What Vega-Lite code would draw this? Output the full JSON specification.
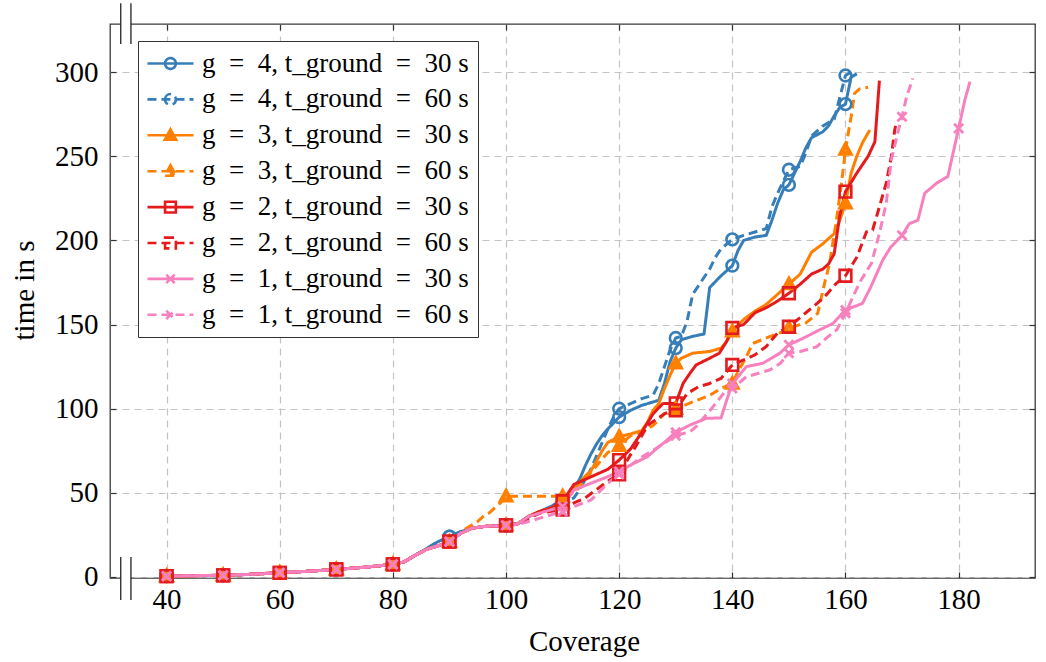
{
 "$schema": "https://vega.github.io/schema/vega-lite/v6.json",
 "width": 925, "height": 554,
 "autosize": {"type": "none"},
 "padding": {"left": 110, "top": 24, "right": 11, "bottom": 84},
 "background": "white",
 "datasets": {
  "curves": [
{"s":"4/30","x":40,"y":0.5},{"s":"4/30","x":45,"y":0.8},{"s":"4/30","x":50,"y":1.0},{"s":"4/30","x":55,"y":1.6},{"s":"4/30","x":60,"y":2.5},{"s":"4/30","x":65,"y":3.4},{"s":"4/30","x":70,"y":4.5},{"s":"4/30","x":75,"y":5.8},{"s":"4/30","x":80,"y":7.5},{"s":"4/30","x":82,"y":9},{"s":"4/30","x":84,"y":13},{"s":"4/30","x":86,"y":17},{"s":"4/30","x":88,"y":21},{"s":"4/30","x":90,"y":24},{"s":"4/30","x":92,"y":27},{"s":"4/30","x":94,"y":29},{"s":"4/30","x":96,"y":30},{"s":"4/30","x":98,"y":30.3},{"s":"4/30","x":100,"y":30.7},{"s":"4/30","x":102,"y":31.5},{"s":"4/30","x":104,"y":36},{"s":"4/30","x":106,"y":39},{"s":"4/30","x":108,"y":42},{"s":"4/30","x":110,"y":46},{"s":"4/30","x":112,"y":53},{"s":"4/30","x":113,"y":58},{"s":"4/30","x":114,"y":66},{"s":"4/30","x":115,"y":73},{"s":"4/30","x":116,"y":79},{"s":"4/30","x":117,"y":84},{"s":"4/30","x":118,"y":88},{"s":"4/30","x":120,"y":95},{"s":"4/30","x":122,"y":99},{"s":"4/30","x":124,"y":102},{"s":"4/30","x":126,"y":104},{"s":"4/30","x":127,"y":105},{"s":"4/30","x":128,"y":115},{"s":"4/30","x":129,"y":128},{"s":"4/30","x":130,"y":136},{"s":"4/30","x":131,"y":141},{"s":"4/30","x":133,"y":143},{"s":"4/30","x":135,"y":144.4},{"s":"4/30","x":136,"y":172},{"s":"4/30","x":138,"y":179},{"s":"4/30","x":140,"y":185},{"s":"4/30","x":141,"y":194},{"s":"4/30","x":142,"y":200},{"s":"4/30","x":144,"y":202},{"s":"4/30","x":146,"y":203},{"s":"4/30","x":147,"y":212},{"s":"4/30","x":148,"y":222},{"s":"4/30","x":149,"y":230},{"s":"4/30","x":150,"y":233},{"s":"4/30","x":151,"y":240},{"s":"4/30","x":152,"y":247},{"s":"4/30","x":153,"y":255},{"s":"4/30","x":154,"y":261},{"s":"4/30","x":156,"y":264.6},{"s":"4/30","x":157,"y":268},{"s":"4/30","x":158,"y":274},{"s":"4/30","x":159,"y":279},{"s":"4/30","x":160,"y":281},{"s":"4/30","x":161,"y":297},{"s":"4/30","x":162,"y":299},
{"s":"4/60","x":40,"y":0.5},{"s":"4/60","x":45,"y":0.8},{"s":"4/60","x":50,"y":1.0},{"s":"4/60","x":55,"y":1.6},{"s":"4/60","x":60,"y":2.5},{"s":"4/60","x":65,"y":3.4},{"s":"4/60","x":70,"y":4.5},{"s":"4/60","x":75,"y":5.8},{"s":"4/60","x":80,"y":7.5},{"s":"4/60","x":82,"y":9},{"s":"4/60","x":84,"y":13},{"s":"4/60","x":86,"y":17},{"s":"4/60","x":88,"y":21},{"s":"4/60","x":90,"y":24},{"s":"4/60","x":92,"y":27},{"s":"4/60","x":94,"y":29},{"s":"4/60","x":96,"y":30},{"s":"4/60","x":98,"y":30.3},{"s":"4/60","x":100,"y":30.7},{"s":"4/60","x":102,"y":31.5},{"s":"4/60","x":104,"y":35},{"s":"4/60","x":106,"y":38},{"s":"4/60","x":108,"y":41},{"s":"4/60","x":110,"y":44},{"s":"4/60","x":112,"y":47},{"s":"4/60","x":113,"y":52},{"s":"4/60","x":114,"y":58},{"s":"4/60","x":115,"y":64},{"s":"4/60","x":116,"y":72},{"s":"4/60","x":117,"y":80},{"s":"4/60","x":118,"y":88},{"s":"4/60","x":119,"y":95},{"s":"4/60","x":120,"y":100},{"s":"4/60","x":122,"y":103},{"s":"4/60","x":124,"y":106},{"s":"4/60","x":126,"y":108},{"s":"4/60","x":127,"y":115},{"s":"4/60","x":128,"y":125},{"s":"4/60","x":129,"y":135},{"s":"4/60","x":130,"y":142},{"s":"4/60","x":131,"y":143},{"s":"4/60","x":132,"y":152},{"s":"4/60","x":133,"y":168},{"s":"4/60","x":134,"y":173},{"s":"4/60","x":136,"y":183},{"s":"4/60","x":137,"y":190},{"s":"4/60","x":138,"y":195},{"s":"4/60","x":140,"y":200.6},{"s":"4/60","x":142,"y":203},{"s":"4/60","x":144,"y":205},{"s":"4/60","x":146,"y":207},{"s":"4/60","x":147,"y":220},{"s":"4/60","x":148,"y":228},{"s":"4/60","x":149,"y":235},{"s":"4/60","x":150,"y":242},{"s":"4/60","x":152,"y":244},{"s":"4/60","x":153,"y":252},{"s":"4/60","x":154,"y":262},{"s":"4/60","x":156,"y":268},{"s":"4/60","x":158,"y":272},{"s":"4/60","x":159,"y":285},{"s":"4/60","x":160,"y":298},{"s":"4/60","x":161,"y":300},
{"s":"3/30","x":40,"y":0.5},{"s":"3/30","x":45,"y":0.8},{"s":"3/30","x":50,"y":1.0},{"s":"3/30","x":55,"y":1.6},{"s":"3/30","x":60,"y":2.5},{"s":"3/30","x":65,"y":3.4},{"s":"3/30","x":70,"y":4.5},{"s":"3/30","x":75,"y":5.8},{"s":"3/30","x":80,"y":7.5},{"s":"3/30","x":82,"y":9},{"s":"3/30","x":84,"y":13},{"s":"3/30","x":86,"y":16.5},{"s":"3/30","x":88,"y":18.5},{"s":"3/30","x":90,"y":21},{"s":"3/30","x":92,"y":26},{"s":"3/30","x":94,"y":29},{"s":"3/30","x":96,"y":30},{"s":"3/30","x":98,"y":30.3},{"s":"3/30","x":100,"y":30.7},{"s":"3/30","x":102,"y":31.5},{"s":"3/30","x":104,"y":36},{"s":"3/30","x":106,"y":39},{"s":"3/30","x":108,"y":41},{"s":"3/30","x":110,"y":44},{"s":"3/30","x":112,"y":52},{"s":"3/30","x":114,"y":60},{"s":"3/30","x":115,"y":63},{"s":"3/30","x":116,"y":69},{"s":"3/30","x":117,"y":75},{"s":"3/30","x":118,"y":80},{"s":"3/30","x":120,"y":83.4},{"s":"3/30","x":122,"y":85},{"s":"3/30","x":124,"y":87},{"s":"3/30","x":125,"y":92},{"s":"3/30","x":126,"y":99},{"s":"3/30","x":127,"y":103},{"s":"3/30","x":128,"y":112},{"s":"3/30","x":129,"y":120},{"s":"3/30","x":130,"y":127},{"s":"3/30","x":131,"y":130},{"s":"3/30","x":133,"y":133},{"s":"3/30","x":136,"y":134},{"s":"3/30","x":138,"y":136},{"s":"3/30","x":139,"y":140},{"s":"3/30","x":140,"y":146},{"s":"3/30","x":142,"y":153},{"s":"3/30","x":144,"y":158},{"s":"3/30","x":146,"y":162},{"s":"3/30","x":148,"y":168},{"s":"3/30","x":150,"y":174},{"s":"3/30","x":152,"y":180},{"s":"3/30","x":154,"y":193},{"s":"3/30","x":156,"y":198},{"s":"3/30","x":158,"y":204},{"s":"3/30","x":159,"y":212},{"s":"3/30","x":160,"y":222},{"s":"3/30","x":161,"y":240},{"s":"3/30","x":162,"y":250},{"s":"3/30","x":163,"y":258},{"s":"3/30","x":164.3,"y":265.6},
{"s":"3/60","x":40,"y":0.5},{"s":"3/60","x":45,"y":0.8},{"s":"3/60","x":50,"y":1.0},{"s":"3/60","x":55,"y":1.6},{"s":"3/60","x":60,"y":2.5},{"s":"3/60","x":65,"y":3.4},{"s":"3/60","x":70,"y":4.5},{"s":"3/60","x":75,"y":5.8},{"s":"3/60","x":80,"y":7.5},{"s":"3/60","x":82,"y":9},{"s":"3/60","x":84,"y":13},{"s":"3/60","x":86,"y":16.5},{"s":"3/60","x":88,"y":18.5},{"s":"3/60","x":90,"y":21},{"s":"3/60","x":92,"y":26},{"s":"3/60","x":93,"y":29},{"s":"3/60","x":95,"y":33},{"s":"3/60","x":96,"y":36},{"s":"3/60","x":97,"y":38},{"s":"3/60","x":98,"y":41},{"s":"3/60","x":99,"y":44},{"s":"3/60","x":100,"y":48},{"s":"3/60","x":102,"y":48},{"s":"3/60","x":104,"y":48},{"s":"3/60","x":106,"y":48},{"s":"3/60","x":108,"y":48},{"s":"3/60","x":110,"y":48},{"s":"3/60","x":111,"y":48},{"s":"3/60","x":113,"y":53},{"s":"3/60","x":115,"y":62},{"s":"3/60","x":117,"y":70},{"s":"3/60","x":118,"y":74},{"s":"3/60","x":120,"y":78},{"s":"3/60","x":122,"y":84},{"s":"3/60","x":124,"y":86},{"s":"3/60","x":126,"y":90},{"s":"3/60","x":128,"y":97},{"s":"3/60","x":130,"y":100},{"s":"3/60","x":133,"y":104},{"s":"3/60","x":136,"y":108},{"s":"3/60","x":138,"y":112},{"s":"3/60","x":140,"y":115},{"s":"3/60","x":141,"y":122},{"s":"3/60","x":142.5,"y":131},{"s":"3/60","x":143.6,"y":138.8},{"s":"3/60","x":146.6,"y":142.8},{"s":"3/60","x":149,"y":145.8},{"s":"3/60","x":150,"y":148},{"s":"3/60","x":153,"y":151},{"s":"3/60","x":155.1,"y":156.7},{"s":"3/60","x":156.3,"y":174.5},{"s":"3/60","x":157.2,"y":186.4},{"s":"3/60","x":158.4,"y":212},{"s":"3/60","x":159.3,"y":234},{"s":"3/60","x":160,"y":254},{"s":"3/60","x":161,"y":273.5},{"s":"3/60","x":161.6,"y":287.4},{"s":"3/60","x":162.5,"y":290},{"s":"3/60","x":164,"y":291},
{"s":"2/30","x":40,"y":0.5},{"s":"2/30","x":45,"y":0.8},{"s":"2/30","x":50,"y":1.0},{"s":"2/30","x":55,"y":1.6},{"s":"2/30","x":60,"y":2.5},{"s":"2/30","x":65,"y":3.4},{"s":"2/30","x":70,"y":4.5},{"s":"2/30","x":75,"y":5.8},{"s":"2/30","x":80,"y":7.5},{"s":"2/30","x":82,"y":9},{"s":"2/30","x":84,"y":13},{"s":"2/30","x":86,"y":16.5},{"s":"2/30","x":88,"y":18.5},{"s":"2/30","x":90,"y":21},{"s":"2/30","x":92,"y":26},{"s":"2/30","x":94,"y":29},{"s":"2/30","x":96,"y":30},{"s":"2/30","x":98,"y":30.3},{"s":"2/30","x":100,"y":30.7},{"s":"2/30","x":102,"y":31.5},{"s":"2/30","x":104,"y":36},{"s":"2/30","x":106,"y":39},{"s":"2/30","x":108,"y":41},{"s":"2/30","x":110,"y":45},{"s":"2/30","x":112,"y":55},{"s":"2/30","x":114,"y":58},{"s":"2/30","x":116,"y":61},{"s":"2/30","x":118,"y":64},{"s":"2/30","x":120,"y":69.5},{"s":"2/30","x":122,"y":76},{"s":"2/30","x":124,"y":86},{"s":"2/30","x":126,"y":97},{"s":"2/30","x":127.7,"y":103},{"s":"2/30","x":130,"y":103.2},{"s":"2/30","x":131.3,"y":115},{"s":"2/30","x":132.5,"y":121},{"s":"2/30","x":133.6,"y":126},{"s":"2/30","x":136,"y":130},{"s":"2/30","x":137.7,"y":133},{"s":"2/30","x":139,"y":140},{"s":"2/30","x":140,"y":148},{"s":"2/30","x":142,"y":150},{"s":"2/30","x":144,"y":157},{"s":"2/30","x":146,"y":160},{"s":"2/30","x":148,"y":164},{"s":"2/30","x":150,"y":168.6},{"s":"2/30","x":152,"y":174},{"s":"2/30","x":154,"y":180},{"s":"2/30","x":156,"y":183},{"s":"2/30","x":157,"y":186},{"s":"2/30","x":158,"y":192},{"s":"2/30","x":159,"y":215},{"s":"2/30","x":160,"y":229},{"s":"2/30","x":162,"y":240},{"s":"2/30","x":164,"y":250},{"s":"2/30","x":165.2,"y":258.6},{"s":"2/30","x":166,"y":295},
{"s":"2/60","x":40,"y":0.5},{"s":"2/60","x":45,"y":0.8},{"s":"2/60","x":50,"y":1.0},{"s":"2/60","x":55,"y":1.6},{"s":"2/60","x":60,"y":2.5},{"s":"2/60","x":65,"y":3.4},{"s":"2/60","x":70,"y":4.5},{"s":"2/60","x":75,"y":5.8},{"s":"2/60","x":80,"y":7.5},{"s":"2/60","x":82,"y":9},{"s":"2/60","x":84,"y":13},{"s":"2/60","x":86,"y":16.5},{"s":"2/60","x":88,"y":18.5},{"s":"2/60","x":90,"y":21},{"s":"2/60","x":92,"y":26},{"s":"2/60","x":94,"y":29},{"s":"2/60","x":96,"y":30},{"s":"2/60","x":98,"y":30.3},{"s":"2/60","x":100,"y":30.7},{"s":"2/60","x":102,"y":31.5},{"s":"2/60","x":104,"y":35},{"s":"2/60","x":106,"y":38},{"s":"2/60","x":108,"y":39},{"s":"2/60","x":110,"y":40},{"s":"2/60","x":112,"y":44},{"s":"2/60","x":114,"y":47},{"s":"2/60","x":116,"y":52},{"s":"2/60","x":118,"y":57},{"s":"2/60","x":120,"y":61},{"s":"2/60","x":121.8,"y":71.5},{"s":"2/60","x":123,"y":78},{"s":"2/60","x":125,"y":90},{"s":"2/60","x":128,"y":97},{"s":"2/60","x":130,"y":99},{"s":"2/60","x":132,"y":109},{"s":"2/60","x":134,"y":113},{"s":"2/60","x":136,"y":115},{"s":"2/60","x":138,"y":118},{"s":"2/60","x":140,"y":126},{"s":"2/60","x":142,"y":129},{"s":"2/60","x":144,"y":132},{"s":"2/60","x":146,"y":137},{"s":"2/60","x":148,"y":145},{"s":"2/60","x":150,"y":148.7},{"s":"2/60","x":153,"y":157},{"s":"2/60","x":155,"y":162.6},{"s":"2/60","x":156.6,"y":167.6},{"s":"2/60","x":158.4,"y":174.5},{"s":"2/60","x":160,"y":179},{"s":"2/60","x":162,"y":190},{"s":"2/60","x":163.7,"y":205},{"s":"2/60","x":164.8,"y":206.2},{"s":"2/60","x":166,"y":220},{"s":"2/60","x":167.2,"y":234},{"s":"2/60","x":168.1,"y":249.7},{"s":"2/60","x":168.7,"y":265.6},{"s":"2/60","x":169,"y":270},
{"s":"1/30","x":40,"y":0.5},{"s":"1/30","x":45,"y":0.8},{"s":"1/30","x":50,"y":1.0},{"s":"1/30","x":55,"y":1.6},{"s":"1/30","x":60,"y":2.5},{"s":"1/30","x":65,"y":3.4},{"s":"1/30","x":70,"y":4.5},{"s":"1/30","x":75,"y":5.8},{"s":"1/30","x":80,"y":7.5},{"s":"1/30","x":82,"y":9},{"s":"1/30","x":84,"y":13},{"s":"1/30","x":86,"y":16.5},{"s":"1/30","x":88,"y":18.5},{"s":"1/30","x":90,"y":21},{"s":"1/30","x":92,"y":26},{"s":"1/30","x":94,"y":29},{"s":"1/30","x":96,"y":30},{"s":"1/30","x":98,"y":30.3},{"s":"1/30","x":100,"y":30.7},{"s":"1/30","x":102,"y":31.5},{"s":"1/30","x":104,"y":36},{"s":"1/30","x":106,"y":38},{"s":"1/30","x":108,"y":40},{"s":"1/30","x":110,"y":42},{"s":"1/30","x":112,"y":51.7},{"s":"1/30","x":115,"y":55.7},{"s":"1/30","x":118,"y":59.6},{"s":"1/30","x":120,"y":62.6},{"s":"1/30","x":122,"y":66.5},{"s":"1/30","x":125,"y":71.5},{"s":"1/30","x":127,"y":77.4},{"s":"1/30","x":128,"y":80},{"s":"1/30","x":130,"y":86},{"s":"1/30","x":132.5,"y":90.3},{"s":"1/30","x":135.4,"y":94.3},{"s":"1/30","x":138,"y":94.5},{"s":"1/30","x":139,"y":105},{"s":"1/30","x":140,"y":115},{"s":"1/30","x":142.5,"y":125},{"s":"1/30","x":145.4,"y":127},{"s":"1/30","x":148.4,"y":133},{"s":"1/30","x":150,"y":138},{"s":"1/30","x":152,"y":141},{"s":"1/30","x":155.4,"y":146.8},{"s":"1/30","x":157.8,"y":150.7},{"s":"1/30","x":160,"y":158.6},{"s":"1/30","x":163,"y":162.6},{"s":"1/30","x":164.5,"y":172.5},{"s":"1/30","x":166.6,"y":188.4},{"s":"1/30","x":168,"y":196},{"s":"1/30","x":170,"y":203},{"s":"1/30","x":171.3,"y":210},{"s":"1/30","x":172.8,"y":212},{"s":"1/30","x":174,"y":228},{"s":"1/30","x":176.1,"y":234},{"s":"1/30","x":178.1,"y":238},{"s":"1/30","x":180,"y":266.6},{"s":"1/30","x":181.1,"y":283.4},{"s":"1/30","x":182,"y":294.3},
{"s":"1/60","x":40,"y":0.5},{"s":"1/60","x":45,"y":0.8},{"s":"1/60","x":50,"y":1.0},{"s":"1/60","x":55,"y":1.6},{"s":"1/60","x":60,"y":2.5},{"s":"1/60","x":65,"y":3.4},{"s":"1/60","x":70,"y":4.5},{"s":"1/60","x":75,"y":5.8},{"s":"1/60","x":80,"y":7.5},{"s":"1/60","x":82,"y":9},{"s":"1/60","x":84,"y":13},{"s":"1/60","x":86,"y":16.5},{"s":"1/60","x":88,"y":18.5},{"s":"1/60","x":90,"y":21},{"s":"1/60","x":92,"y":26},{"s":"1/60","x":94,"y":29},{"s":"1/60","x":96,"y":30},{"s":"1/60","x":98,"y":30.3},{"s":"1/60","x":100,"y":30.7},{"s":"1/60","x":102,"y":31},{"s":"1/60","x":104,"y":33},{"s":"1/60","x":106,"y":35},{"s":"1/60","x":108,"y":37},{"s":"1/60","x":110,"y":39},{"s":"1/60","x":112,"y":41.8},{"s":"1/60","x":115,"y":45.7},{"s":"1/60","x":118,"y":55.7},{"s":"1/60","x":120,"y":61},{"s":"1/60","x":123.6,"y":70.5},{"s":"1/60","x":126.6,"y":76.5},{"s":"1/60","x":130,"y":84},{"s":"1/60","x":132.5,"y":86.3},{"s":"1/60","x":133.6,"y":89.3},{"s":"1/60","x":136.6,"y":101.2},{"s":"1/60","x":138.9,"y":111},{"s":"1/60","x":140,"y":112},{"s":"1/60","x":142.5,"y":119},{"s":"1/60","x":146.6,"y":123},{"s":"1/60","x":148.5,"y":127},{"s":"1/60","x":150,"y":133},{"s":"1/60","x":152,"y":134},{"s":"1/60","x":154.9,"y":136.8},{"s":"1/60","x":157,"y":143},{"s":"1/60","x":158.5,"y":147},{"s":"1/60","x":160,"y":156.7},{"s":"1/60","x":162.5,"y":175},{"s":"1/60","x":164.6,"y":186.4},{"s":"1/60","x":166,"y":204.2},{"s":"1/60","x":167.2,"y":222},{"s":"1/60","x":168.1,"y":247.8},{"s":"1/60","x":169.3,"y":264.6},{"s":"1/60","x":170,"y":273.5},{"s":"1/60","x":170.8,"y":285.4},{"s":"1/60","x":171.9,"y":296.3}
  ],
  "breakBars": [
   {"x": 31.9, "y": -13.7, "y2": 11.9}, {"x": 33.7, "y": -13.7, "y2": 11.9},
   {"x": 31.9, "y": 316.7, "y2": 341}, {"x": 33.7, "y": 316.7, "y2": 341}
  ],
  "breakGaps": [
   {"x": 31.9, "x2": 33.7, "y": -2.5, "y2": 2.5},
   {"x": 31.9, "x2": 33.7, "y": 326.1, "y2": 331.1}
  ]
 },
 "data": {"name": "curves"},
 "layer": [
  {
   "mark": {"type": "line", "strokeWidth": 3, "strokeCap": "butt", "strokeJoin": "round"},
   "encoding": {
    "x": {"field": "x", "type": "quantitative", "scale": {"domain": [30, 193.5], "nice": false, "zero": false},
          "axis": {"orient": "bottom", "values": [40, 60, 80, 100, 120, 140, 160, 180], "grid": true, "title": "Coverage", "labelPadding": 13, "titleX": 474, "titleY": 72, "titleBaseline": "alphabetic"}},
    "y": {"field": "y", "type": "quantitative", "scale": {"domain": [-0.6, 328.6], "nice": false, "zero": false},
          "axis": {"orient": "left", "values": [0, 50, 100, 150, 200, 250, 300], "grid": true, "title": "time in s", "labelPadding": 18, "titleX": -77, "titleY": 266, "titleBaseline": "alphabetic", "titleAngle": -90, "titleAlign": "center"}},
    "color": {"field": "s", "type": "nominal", "scale": {"domain": ["4/30","4/60","3/30","3/60","2/30","2/60","1/30","1/60"], "range": ["#377eb8","#377eb8","#ff7f00","#ff7f00","#e41a1c","#e41a1c","#f781bf","#f781bf"]},
      "legend": {"orient": "none", "legendX": 28, "legendY": 17, "title": null, "labelExpr": "'g\u2002=\u2002' + split(datum.label, '/')[0] + ', t_ground\u2002=\u2002' + split(datum.label, '/')[1] + ' s'", "labelOffset": 28, "labelFontSize": 27, "rowPadding": 7.9}},
    "strokeDash": {"field": "s", "type": "nominal", "scale": {"domain": ["4/30","4/60","3/30","3/60","2/30","2/60","1/30","1/60"], "range": [[1,0],[9,5],[1,0],[9,5],[1,0],[9,5],[1,0],[9,5]]}}
   }
  },
  {
   "transform": [{"filter": "datum.x % 10 === 0 && (datum.s === '4/30' || datum.s === '4/60')"}],
   "mark": {"type": "point", "shape": "M-0.9,0A0.9,0.9,0,1,1,0.9,0A0.9,0.9,0,1,1,-0.9,0Z", "filled": false, "size": 169, "strokeWidth": 2.6, "opacity": 1},
   "encoding": {
    "x": {"field": "x", "type": "quantitative", "axis": {"orient": "top", "labels": false, "grid": false, "title": null, "values": [40, 60, 80, 100, 120, 140, 160, 180]}},
    "y": {"field": "y", "type": "quantitative", "axis": {"orient": "right", "labels": false, "grid": false, "title": null, "values": [0, 50, 100, 150, 200, 250, 300]}},
    "color": {"field": "s", "type": "nominal"}
   }
  },
  {
   "transform": [{"filter": "datum.x % 10 === 0 && (datum.s === '3/30' || datum.s === '3/60')"}],
   "mark": {"type": "point", "shape": "M0,-1L0.95,0.75L-0.95,0.75Z M0,-0.45L0.45,0.4L-0.45,0.4Z", "filled": false, "size": 169, "strokeWidth": 2.6, "opacity": 1},
   "encoding": {
    "x": {"field": "x", "type": "quantitative", "axis": null},
    "y": {"field": "y", "type": "quantitative", "axis": null},
    "color": {"field": "s", "type": "nominal"}
   }
  },
  {
   "transform": [{"filter": "datum.x % 10 === 0 && (datum.s === '2/30' || datum.s === '2/60')"}],
   "mark": {"type": "point", "shape": "M-0.9,-0.9H0.9V0.9H-0.9Z", "filled": false, "size": 169, "strokeWidth": 2.6, "opacity": 1},
   "encoding": {
    "x": {"field": "x", "type": "quantitative", "axis": null},
    "y": {"field": "y", "type": "quantitative", "axis": null},
    "color": {"field": "s", "type": "nominal"}
   }
  },
  {
   "transform": [{"filter": "datum.x % 10 === 0 && (datum.s === '1/30' || datum.s === '1/60')"}],
   "mark": {"type": "point", "shape": "M-0.7,-0.7L0.7,0.7M-0.7,0.7L0.7,-0.7", "filled": false, "size": 169, "strokeWidth": 2.8, "opacity": 1},
   "encoding": {
    "x": {"field": "x", "type": "quantitative", "axis": null},
    "y": {"field": "y", "type": "quantitative", "axis": null},
    "color": {"field": "s", "type": "nominal"}
   }
  },
  {
   "transform": [{"filter": "datum.x < 0"}],
   "mark": {"type": "point", "filled": false, "size": 144, "strokeWidth": 2.6, "opacity": 1},
   "encoding": {
    "x": {"field": "x", "type": "quantitative", "axis": null},
    "y": {"field": "y", "type": "quantitative", "axis": null},
    "color": {"field": "s", "type": "nominal"},
    "strokeDash": {"field": "s", "type": "nominal"},
    "shape": {"field": "s", "type": "nominal",
      "scale": {"domain": ["4/30","4/60","3/30","3/60","2/30","2/60","1/30","1/60"],
        "range": [
          "M-2.17,0H5.5M0.76,0A0.9,0.9,0,1,1,2.56,0A0.9,0.9,0,1,1,0.76,0",
          "M-2.17,0H5.5M0.76,0A0.9,0.9,0,1,1,2.56,0A0.9,0.9,0,1,1,0.76,0",
          "M-2.17,0H5.5M1.66,-1L2.61,0.75L0.71,0.75ZM1.66,-0.45L2.11,0.4L1.21,0.4Z",
          "M-2.17,0H5.5M1.66,-1L2.61,0.75L0.71,0.75ZM1.66,-0.45L2.11,0.4L1.21,0.4Z",
          "M-2.17,0H5.5M0.76,-0.9H2.56V0.9H0.76Z",
          "M-2.17,0H5.5M0.76,-0.9H2.56V0.9H0.76Z",
          "M-2.17,0H5.5M0.96,-0.7L2.36,0.7M0.96,0.7L2.36,-0.7",
          "M-2.17,0H5.5M0.96,-0.7L2.36,0.7M0.96,0.7L2.36,-0.7"
        ]}}
   }
  },
  {
   "data": {"name": "breakGaps"},
   "mark": {"type": "rect", "fill": "white", "clip": false},
   "encoding": {
    "x": {"field": "x", "type": "quantitative", "axis": null},
    "x2": {"field": "x2"},
    "y": {"field": "y", "type": "quantitative", "axis": null},
    "y2": {"field": "y2"}
   }
  },
  {
   "data": {"name": "breakBars"},
   "mark": {"type": "rule", "color": "#222", "strokeWidth": 1.3, "clip": false},
   "encoding": {
    "x": {"field": "x", "type": "quantitative", "axis": null},
    "y": {"field": "y", "type": "quantitative", "axis": null},
    "y2": {"field": "y2"}
   }
  }
 ],
 "resolve": {"axis": {"x": "independent", "y": "independent"}},
 "config": {
  "font": "Liberation Serif",
  "view": {"stroke": "#3a3a3a", "strokeWidth": 1.3},
  "axis": {"labelFont": "Liberation Serif", "labelFontSize": 29, "labelColor": "#000", "titleFont": "Liberation Serif", "titleFontSize": 29, "titleFontWeight": "normal", "titleColor": "#000", "domain": false, "tickColor": "#333", "tickWidth": 1.2, "tickSize": -6, "gridColor": "#c4c4c4", "gridDash": [7, 5], "gridWidth": 1.2},
  "legend": {"orient": "none", "legendX": 28, "legendY": 17, "title": null, "labelFont": "Liberation Serif", "labelFontSize": 27, "labelColor": "#000", "labelLimit": 0, "symbolSize": 144, "symbolStrokeWidth": 2.6, "symbolFillColor": "transparent", "labelOffset": 28, "padding": 9, "rowPadding": 7.9, "strokeColor": "#333", "fillColor": "white"}
 }
}
